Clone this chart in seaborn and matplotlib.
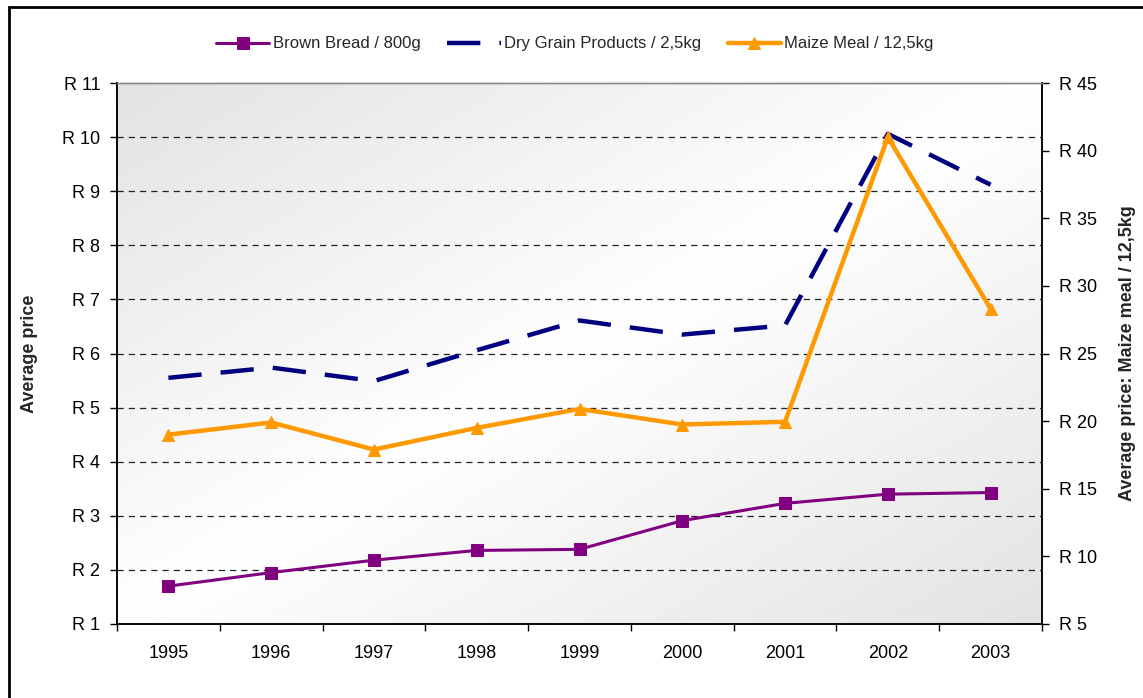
import numpy as np
import pandas as pd
import matplotlib
matplotlib.use("Agg")
import matplotlib.pyplot as plt
import seaborn as sns
from matplotlib.patches import Rectangle
from matplotlib.ticker import FixedLocator, NullFormatter

years = ["1995", "1996", "1997", "1998", "1999", "2000", "2001", "2002", "2003"]
brown_bread = [1.70, 1.95, 2.18, 2.36, 2.38, 2.91, 3.23, 3.40, 3.43]
dry_grain = [5.55, 5.74, 5.49, 6.06, 6.61, 6.35, 6.52, 10.06, 9.12]
maize_meal = [19.0, 19.9, 17.9, 19.5, 20.9, 19.75, 19.95, 41.0, 28.3]
left_ticks = [1, 2, 3, 4, 5, 6, 7, 8, 9, 10, 11]
right_ticks = [5, 10, 15, 20, 25, 30, 35, 40, 45]

df = pd.DataFrame({"Year": years, "Brown": brown_bread,
                   "Dry": dry_grain, "Maize": maize_meal})

sns.set_theme(style="white")
plt.rcParams["font.family"] = ["Liberation Sans", "DejaVu Sans"]

fig = plt.figure(figsize=(11.43, 6.98), dpi=100)
fig.patch.set_facecolor("white")
ax = fig.add_axes([117 / 1143, 1 - 624 / 698, (1042 - 117) / 1143, (624 - 83) / 698])
ax2 = ax.twinx()

# background gradient: grey at top-left and bottom-right, white along the diagonal
n = 200
xx, yy = np.meshgrid(np.linspace(0, 1, n), np.linspace(0, 1, n))
t = (xx + yy) / 2.0  # 0 at top-left (origin upper), 1 at bottom-right
v = 1.0 - 0.11 * np.abs(t - 0.5) * 2
img = np.dstack([v, v, v])
ax.imshow(img, extent=[0, 1, 0, 1], transform=ax.transAxes, aspect="auto",
          zorder=0, origin="upper", interpolation="bilinear")

purple = "#800080"
navy = "#000080"
orange = "#FF9900"

sns.lineplot(data=df, x="Year", y="Brown", ax=ax, color=purple, linewidth=2.2,
             marker="s", markersize=8, markeredgecolor=purple,
             label="Brown Bread / 800g", legend=False, zorder=4)
sns.lineplot(data=df, x="Year", y="Dry", ax=ax, color=navy, linewidth=3.2,
             linestyle=(0, (7.5, 4.3)), label="Dry Grain Products / 2,5kg",
             legend=False, zorder=4)
sns.lineplot(data=df, x="Year", y="Maize", ax=ax2, color=orange, linewidth=3.2,
             marker="^", markersize=9, markeredgecolor=orange,
             label="Maize Meal / 12,5kg", legend=False, zorder=4)

ax.set_ylim(1, 11)
ax2.set_ylim(5, 45)
ax.set_xlim(-0.5, len(years) - 0.5)

ax.set_yticks(left_ticks)
ax.set_yticklabels([f"R {v}" for v in left_ticks])
ax2.set_yticks(right_ticks)
ax2.set_yticklabels([f"R {v}" for v in right_ticks])

# gridlines at left ticks (except bottom and top)
for v in left_ticks[1:-1]:
    ax.axhline(v, color="#222222", linewidth=0.9, linestyle=(0, (5, 4)), zorder=1)

# x ticks: labels at centres, tick marks at boundaries
ax.set_xticks(range(len(years)))
ax.set_xticklabels(years)
ax.xaxis.set_minor_locator(FixedLocator(np.arange(-0.5, len(years), 1.0)))
ax.xaxis.set_minor_formatter(NullFormatter())
ax.tick_params(axis="x", which="major", length=0, pad=15, labelsize=13, colors="black")
ax.tick_params(axis="x", which="minor", length=5, width=1, color="black", direction="out",
               bottom=True)
ax.tick_params(axis="y", which="major", length=5, width=1, color="black", direction="out",
               left=True, pad=7, labelsize=13, labelcolor="black")
ax2.tick_params(axis="y", which="major", length=5, width=1, color="black", direction="out",
                right=True, pad=7, labelsize=13, labelcolor="black")

ax.set_xlabel("")
ax.set_ylabel("Average price", fontsize=13, fontweight="bold")
ax2.set_ylabel("Average price: Maize meal / 12,5kg", fontsize=13, fontweight="bold")
ax.yaxis.set_label_coords(-0.085, 0.5)
ax2.yaxis.set_label_coords(1.083, 0.5)

for a in (ax, ax2):
    for side in ("left", "bottom", "right"):
        a.spines[side].set_color("black")
        a.spines[side].set_linewidth(1.1)
    a.spines["top"].set_color("#888888")
    a.spines["top"].set_linewidth(1.0)
    a.grid(False)
ax2.patch.set_visible(False)

h1, l1 = ax.get_legend_handles_labels()
h2, l2 = ax2.get_legend_handles_labels()
fig.legend(h1 + h2, l1 + l2, loc="center", bbox_to_anchor=(0.503, 0.937), ncol=3,
           frameon=False, fontsize=12, handlelength=3.2, columnspacing=1.6,
           handletextpad=0.2)

# outer frame (only top and left visible in the reference)
fig.patches.append(Rectangle((8.5 / 1143, -0.05), 1.2, 1 - 6.5 / 698 + 0.05,
                             transform=fig.transFigure, fill=False,
                             edgecolor="black", linewidth=2.0, zorder=10))

fig.savefig("out.png", dpi=100)
